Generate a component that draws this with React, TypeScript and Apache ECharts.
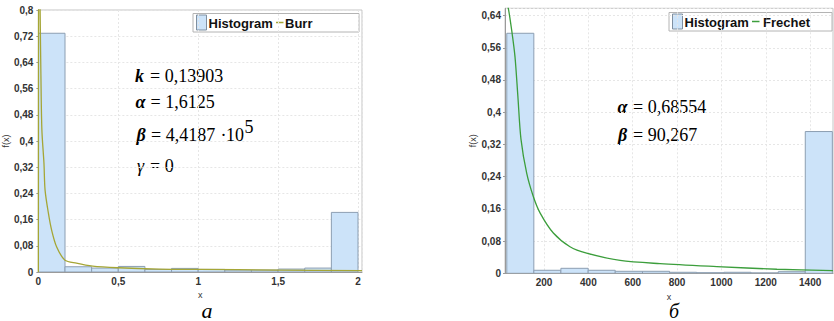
import React, { useEffect, useRef } from "react";
import * as echarts from "echarts";

// ---- Left chart (а): Burr ----
const burrBinEdges = [0, 0.1667, 0.3333, 0.5, 0.6667, 0.8333, 1, 1.1667, 1.3333, 1.5, 1.6667, 1.8333, 2];
const burrHist = [0.729, 0.016, 0.012, 0.017, 0.008, 0.011, 0.008, 0.006, 0.006, 0.009, 0.012, 0.182];
const burrCurve: [number, number][] = [
  [0, 0], [0.002, 1.0], [0.006, 1.1], [0.011, 0.8], [0.016, 0.6], [0.022, 0.434],
  [0.035, 0.332], [0.042, 0.25], [0.063, 0.179], [0.083, 0.128], [0.114, 0.077],
  [0.165, 0.037], [0.238, 0.027], [0.34, 0.018], [0.5, 0.013], [0.75, 0.009],
  [1, 0.008], [1.5, 0.006], [2.025, 0.004],
];

// ---- Right chart (б): Frechet ----
const frechetBinEdges = [32, 154, 276, 399, 521, 644, 766, 888, 1011, 1133, 1256, 1378, 1500];
const frechetHist = [0.596, 0.0075, 0.0124, 0.0075, 0.005, 0.005, 0.0025, 0.0015, 0.0025, 0.001, 0.004, 0.352];
const frechetCurve: [number, number][] = [
  [24, 0.69], [39, 0.658], [55, 0.6], [69, 0.538], [82, 0.44], [96, 0.333],
  [122, 0.248], [152, 0.19], [182, 0.15], [242, 0.1], [317, 0.066], [392, 0.05],
  [543, 0.032], [723, 0.024], [979, 0.0167], [1250, 0.01], [1503, 0.0065],
];
const frechetXTicks = [200, 400, 600, 800, 1000, 1200, 1400];

const HIST_FILL = "#cce3f9";
const HIST_STROKE = "#8c9eb2";
const BURR_COLOR = "#a5a636";
const FRECHET_COLOR = "#3c9e3c";
const SANS = "Liberation Sans";
const SERIF = "Liberation Serif";

function histData(edges: number[], vals: number[]) {
  return vals.map((v, i) => [edges[i], edges[i + 1], v]);
}

const renderBar = (params: any, api: any) => {
  const x0 = api.value(0);
  const x1 = api.value(1);
  const h = api.value(2);
  const p0 = api.coord([x0, h]);
  const p1 = api.coord([x1, 0]);
  return {
    type: "rect",
    shape: { x: p0[0], y: p0[1], width: p1[0] - p0[0], height: p1[1] - p0[1] },
    style: { fill: HIST_FILL, stroke: HIST_STROKE, lineWidth: 1 },
  };
};

const fmt = (v: number) => String(Number(v.toFixed(3))).replace(".", ",");

const labelStyle = {
  fontFamily: SANS,
  fontSize: 10,
  fontWeight: "bold" as const,
  color: "#333",
};

function legend(x: number, y: number, w: number, name: string, color: string, lineX: number, textX: number) {
  return [
    { type: "rect", shape: { x, y, width: w, height: 18.5 }, style: { fill: "#fff", stroke: "#b4b4b4", lineWidth: 1 } },
    { type: "rect", shape: { x: x + 3.5, y: y + 1.5, width: 10, height: 15 }, style: { fill: HIST_FILL, stroke: "#7f8fa0", lineWidth: 1 } },
    { type: "text", x: x + 15.5, y: y + 9.5, style: { text: "Histogram", font: `bold 13px ${SANS}`, fill: "#111", verticalAlign: "middle" } },
    { type: "line", shape: { x1: lineX, y1: y + 9, x2: lineX + 7.5, y2: y + 9 }, style: { stroke: color, lineWidth: 1.5 } },
    { type: "text", x: textX, y: y + 9.5, style: { text: name, font: `bold 13px ${SANS}`, fill: "#111", verticalAlign: "middle" } },
  ];
}

function t(x: number, y: number, text: string, font: string) {
  return { type: "text", x, y, style: { text, font, fill: "#000", verticalAlign: "middle" } };
}
const BI = `italic bold 18px ${SERIF}`;
const IT = `italic 18px ${SERIF}`;
const RG = `18px ${SERIF}`;

export default function App() {
  const ref = useRef<HTMLDivElement>(null);
  useEffect(() => {
    if (!ref.current) return;
    const chart = echarts.init(ref.current, undefined, { renderer: "svg" });
    const splitLine = { show: true, lineStyle: { color: "#e6e6e6", type: [2, 2] as any, width: 1 } };
    const axisLine = { show: true, lineStyle: { color: "#9a9a9a", width: 1 } };
    const nameStyle = { fontFamily: SANS, fontSize: 9, color: "#333" };
    chart.setOption({
      animation: false,
      backgroundColor: "#fff",
      grid: [
        { left: 36, top: 10, width: 326, height: 262, show: true, borderColor: "#c4c4c4", borderWidth: 1, backgroundColor: "#fff" },
        { left: 505, top: 8.3, width: 328, height: 265, show: true, borderColor: "#c4c4c4", borderWidth: 1, backgroundColor: "#fff" },
      ],
      xAxis: [
        {
          type: "value", gridIndex: 0, min: 0, max: 2.025, interval: 0.5,
          axisLine, axisTick: { show: false }, splitLine,
          axisLabel: { ...labelStyle, margin: 4, showMaxLabel: false, formatter: (v: number) => fmt(v) },
          name: "x", nameLocation: "middle", nameGap: 14, nameTextStyle: nameStyle,
        },
        {
          type: "value", gridIndex: 1, min: 24, max: 1503,
          axisLine,
          axisTick: { show: false, customValues: frechetXTicks },
          splitLine,
          axisLabel: { ...labelStyle, margin: 4, customValues: frechetXTicks, formatter: (v: number) => String(v) },
          name: "x", nameLocation: "middle", nameGap: 13, nameTextStyle: nameStyle,
        },
      ],
      yAxis: [
        {
          type: "value", gridIndex: 0, min: 0, max: 0.8, interval: 0.08,
          axisLine, axisTick: { show: true, length: 2, lineStyle: { color: "#9a9a9a" } }, splitLine,
          axisLabel: { ...labelStyle, margin: 5, formatter: (v: number) => fmt(v) },
          name: "f(x)", nameLocation: "middle", nameGap: 19.5, nameTextStyle: nameStyle,
        },
        {
          type: "value", gridIndex: 1, min: 0, max: 0.658, interval: 0.08,
          axisLine, axisTick: { show: true, length: 2, lineStyle: { color: "#9a9a9a" } }, splitLine,
          axisLabel: { ...labelStyle, margin: 4, showMaxLabel: false, formatter: (v: number) => fmt(v) },
          name: "f(x)", nameLocation: "middle", nameGap: 17, nameTextStyle: nameStyle,
        },
      ],
      series: [
        {
          type: "custom", name: "Histogram", xAxisIndex: 0, yAxisIndex: 0, clip: true,
          data: histData(burrBinEdges, burrHist), encode: { x: [0, 1], y: 2 }, renderItem: renderBar,
        },
        {
          type: "line", name: "Burr", xAxisIndex: 0, yAxisIndex: 0, data: burrCurve,
          showSymbol: false, symbol: "none", smooth: 0.3, clip: true,
          lineStyle: { color: BURR_COLOR, width: 1.3 },
        },
        {
          type: "custom", name: "Histogram ", xAxisIndex: 1, yAxisIndex: 1, clip: true,
          data: histData(frechetBinEdges, frechetHist), encode: { x: [0, 1], y: 2 }, renderItem: renderBar,
        },
        {
          type: "line", name: "Frechet", xAxisIndex: 1, yAxisIndex: 1, data: frechetCurve,
          showSymbol: false, symbol: "none", smooth: 0.3, clip: true,
          lineStyle: { color: FRECHET_COLOR, width: 1.3 },
        },
      ],
      graphic: [
        ...legend(193, 13.5, 166, "Burr", BURR_COLOR, 276, 285),
        ...legend(669, 12.5, 163, "Frechet", FRECHET_COLOR, 752, 763),
        // left equations
        t(135, 76, "k", BI),
        t(150, 76, "= 0,13903", RG),
        t(135.5, 101.5, "α", BI),
        t(150.5, 101.5, "= 1,6125", RG),
        t(136.5, 135, "β", BI),
        t(151, 135, "= 4,4187", RG),
        t(220.5, 135, "·", RG),
        t(226, 135, "10", RG),
        t(244.5, 127, "5", RG),
        t(137, 166, "γ", IT),
        t(150, 166, "= 0", RG),
        // right equations
        t(617.5, 106.5, "α", BI),
        t(633, 106.5, "= 0,68554", RG),
        t(618, 134.5, "β", BI),
        t(633, 134.5, "= 90,267", RG),
        { type: "text", x: 207, y: 321, style: { text: "а", font: `italic 22px ${SERIF}`, fill: "#000", align: "center", verticalAlign: "bottom" } },
        { type: "text", x: 674, y: 321, style: { text: "б", font: `italic 20px ${SERIF}`, fill: "#000", align: "center", verticalAlign: "bottom" } },
      ],
    });
    return () => chart.dispose();
  }, []);
  return (
    <div
      ref={ref}
      style={{ position: "absolute", left: 0, top: 0, width: 834, height: 321 }}
    />
  );
}
